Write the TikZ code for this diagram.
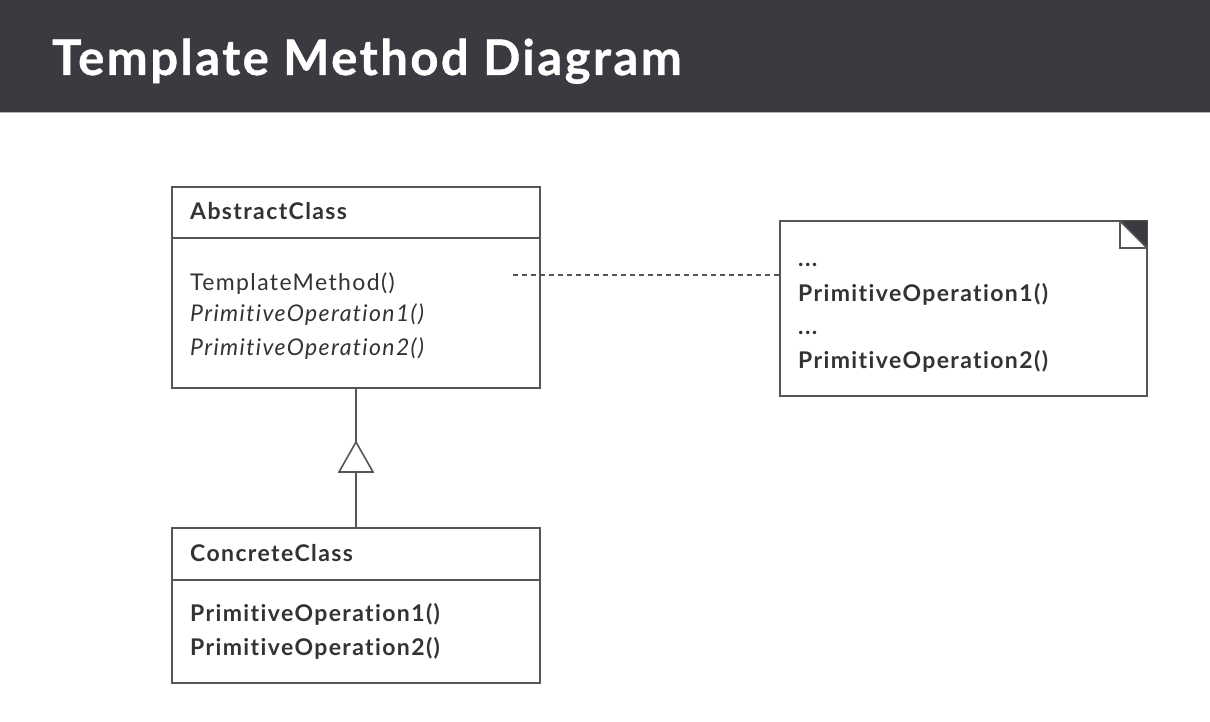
\documentclass[tikz,border=0pt]{standalone}
\usepackage{fontspec}
\setmainfont{Lato}[Ligatures=NoCommon,LetterSpace=6]
\newfontfamily\titlefont{Lato}[Ligatures=NoCommon,LetterSpace=5,BoldFeatures={FakeBold=0.8}]
\begin{document}
\begin{tikzpicture}[x=1pt,y=-1pt,
  txt/.style={text=txtcol,font=\fontsize{23}{27}\selectfont,anchor=base west,inner sep=0pt},
  boldtxt/.style={txt,font=\fontsize{23}{27}\selectfont\bfseries},
  ittxt/.style={txt,font=\fontsize{23}{27}\selectfont\itshape},
  box/.style={draw=linecol,line width=1.6pt},
  ]
\definecolor{band}{HTML}{3A3B40}
\definecolor{txtcol}{HTML}{333333}
\definecolor{linecol}{HTML}{555555}
\useasboundingbox (0,0) rectangle (1210,722);
\fill[white] (0,0) rectangle (1210,722);
\fill[band] (0,0) rectangle (1210,112);
\draw[gray!60,line width=1pt] (0,112.5) -- (1210,112.5);
\node[anchor=base west,inner sep=0pt,text=white,font=\titlefont\fontsize{49}{58}\selectfont\bfseries] (title) at (52,75) {Template Method Diagram};

% AbstractClass
\draw[box] (172,187) rectangle (540,388);
\draw[box] (172,238) -- (540,238);
\coordinate (absbot) at (356,388);
\node[boldtxt] (absname) at (190,220) {AbstractClass};
\node[txt] (tm) at (190,290) {TemplateMethod()};
\node[ittxt] (po1) at (190,321) {PrimitiveOperation1()};
\node[ittxt] (po2) at (190,355) {PrimitiveOperation2()};

% ConcreteClass
\draw[box] (172,528) rectangle (540,683);
\draw[box] (172,580) -- (540,580);
\coordinate (contop) at (356,528);
\node[boldtxt] (conname) at (190,561) {ConcreteClass};
\node[boldtxt] (cpo1) at (190,621) {PrimitiveOperation1()};
\node[boldtxt] (cpo2) at (190,655) {PrimitiveOperation2()};

% Inheritance
\coordinate (tritop) at (356,442);
\coordinate (tribase) at (356,472);
\draw[box] (absbot) -- (tritop);
\draw[box,fill=white,line join=miter] (tritop) -- (373,472) -- (339,472) -- cycle;
\draw[box] (tribase) -- (contop);

% Note
\draw[box] (780,221) rectangle (1147,396);
\fill[band] (1120,221) -- (1147,221) -- (1147,248) -- cycle;
\draw[box] (1120,221) -- (1120,248) -- (1147,248);
\draw[box] (1120,221) -- (1147,248);
\coordinate (noteleft) at (780,275);
\coordinate (dashstart) at (513,275);
\node[boldtxt] (d1) at (798,266) {...};
\node[boldtxt] (npo1) at (798,301) {PrimitiveOperation1()};
\node[boldtxt] (d2) at (798,334) {...};
\node[boldtxt] (npo2) at (798,368) {PrimitiveOperation2()};

\draw[linecol,line width=1.6pt,dash pattern=on 5pt off 4pt] (dashstart) -- (noteleft);
\end{tikzpicture}
\end{document}
